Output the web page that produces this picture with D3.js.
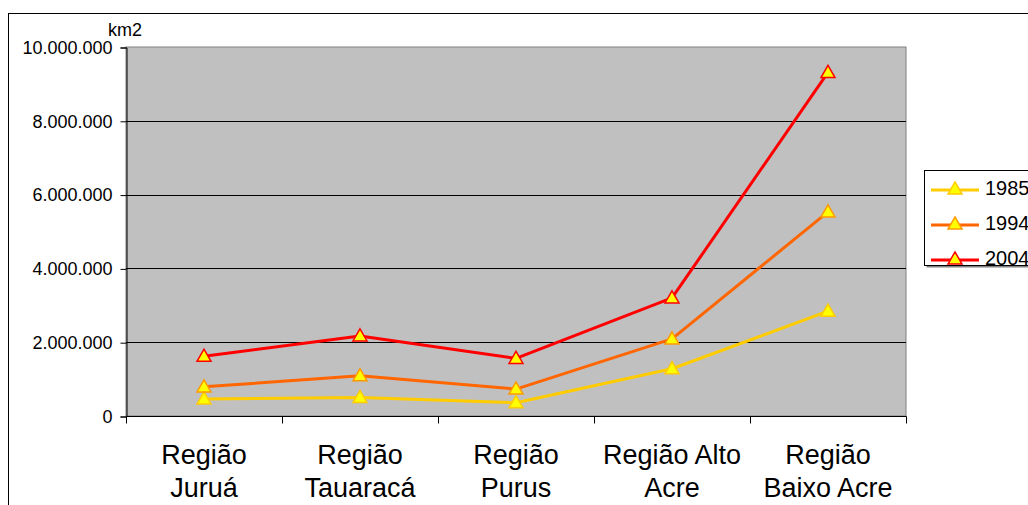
<!DOCTYPE html>
<html>
<head>
<meta charset="utf-8">
<script src="https://cdn.jsdelivr.net/npm/d3@7"></script>
<style>
  body { margin: 0; background: #fff; }
  svg { display: block; font-family: Arial, "Liberation Sans", sans-serif; }
</style>
</head>
<body>
<div id="chart"></div>
<script>
// data
const regions = [["Região", "Juruá"], ["Região", "Tauaracá"], ["Região", "Purus"], ["Região Alto", "Acre"], ["Região", "Baixo Acre"]];
const years = ["1985", "1994", "2004"];
const values1985 = [460000, 500000, 360000, 1280000, 2840000];
const values1994 = [790000, 1090000, 730000, 2090000, 5530000];
const values2004 = [1620000, 2170000, 1560000, 3200000, 9310000];
const yTicks = [0, 2000000, 4000000, 6000000, 8000000, 10000000];

const lineColors = ["#FFCC00", "#FF6600", "#FF0000"];
const markerStroke = ["#FFCC00", "#FF9900", "#FF0000"];

const series = [values1985, values1994, values2004];

const W = 1028, H = 505;
const plot = { left: 126, right: 906, top: 47, bottom: 416 };

const svg = d3.select("#chart").append("svg")
  .attr("width", W)
  .attr("height", H);

// outer frame (cut off at right / bottom like the reference)
svg.append("rect")
  .attr("x", 8.5).attr("y", 13.5)
  .attr("width", W + 20).attr("height", H + 20)
  .attr("fill", "#fff").attr("stroke", "#000");

const x = d3.scaleBand()
  .domain(d3.range(regions.length))
  .range([plot.left, plot.right]);

const y = d3.scaleLinear()
  .domain([0, 10000000])
  .range([plot.bottom, plot.top]);

const ptFmt = d3.formatLocale({ decimal: ",", thousands: ".", grouping: [3], currency: ["R$", ""] }).format(",");

// plot area background
svg.append("rect")
  .attr("x", plot.left).attr("y", plot.top)
  .attr("width", plot.right - plot.left).attr("height", plot.bottom - plot.top)
  .attr("fill", "#C0C0C0")
  .attr("stroke", "#808080");

// gridlines
svg.append("g")
  .selectAll("line")
  .data(yTicks.slice(1, -1))
  .join("line")
    .attr("x1", plot.left).attr("x2", plot.right)
    .attr("y1", d => Math.round(y(d)) + 0.5).attr("y2", d => Math.round(y(d)) + 0.5)
    .attr("stroke", "#000");

// y axis
const yAxis = svg.append("g")
  .attr("transform", `translate(${plot.left + 0.5},0.5)`)
  .call(d3.axisLeft(y).tickValues(yTicks).tickFormat(ptFmt).tickSize(6).tickPadding(8));
yAxis.selectAll("text").attr("font-size", 18).attr("font-family", "Arial, 'Liberation Sans', sans-serif").attr("fill", "#000");
yAxis.select(".domain").attr("stroke", "#000");

// x axis
const xAxisG = svg.append("g")
  .attr("transform", `translate(0.5,${plot.bottom + 0.5})`);
xAxisG.append("line")
  .attr("x1", plot.left).attr("x2", plot.right)
  .attr("stroke", "#000");
xAxisG.selectAll(".tick")
  .data(d3.range(regions.length + 1))
  .join("line")
    .attr("x1", d => d < regions.length ? Math.round(x(d)) : plot.right)
    .attr("x2", d => d < regions.length ? Math.round(x(d)) : plot.right)
    .attr("y1", 0).attr("y2", 7)
    .attr("stroke", "#000");

svg.append("g")
  .selectAll("text")
  .data(regions)
  .join("text")
    .attr("x", (d, i) => x(i) + x.bandwidth() / 2)
    .attr("y", 464)
    .attr("text-anchor", "middle")
    .attr("font-size", 27)
    .selectAll("tspan")
    .data(d => d)
    .join("tspan")
      .attr("x", function() { return this.parentNode.getAttribute("x"); })
      .attr("dy", (d, i) => i === 0 ? 0 : 33)
      .text(d => d);

// unit label
svg.append("text")
  .attr("x", 108).attr("y", 36)
  .attr("font-size", 18)
  .text("km2");

// lines
const line = d3.line()
  .x((d, i) => x(i) + x.bandwidth() / 2)
  .y(d => y(d));

const tri = d3.symbol().type(d3.symbolTriangle).size(85);

series.forEach((vals, s) => {
  svg.append("path")
    .datum(vals)
    .attr("d", line)
    .attr("fill", "none")
    .attr("stroke", lineColors[s])
    .attr("stroke-width", 3)
    .attr("stroke-linejoin", "round");

  svg.append("g")
    .selectAll("path")
    .data(vals)
    .join("path")
      .attr("d", tri)
      .attr("transform", (d, i) => `translate(${x(i) + x.bandwidth() / 2},${y(d) + 1})`)
      .attr("fill", "#FFFF00")
      .attr("stroke", markerStroke[s])
      .attr("stroke-width", 1.5);
});

// legend
const legend = svg.append("g");
legend.append("rect")
  .attr("x", 926.5).attr("y", 172.5)
  .attr("width", 120).attr("height", 95)
  .attr("fill", "#808080");
legend.append("rect")
  .attr("x", 924.5).attr("y", 170.5)
  .attr("width", 120).attr("height", 95)
  .attr("fill", "#fff").attr("stroke", "#000");

const legendY = [190, 225, 260];
years.forEach((yr, s) => {
  const g = legend.append("g").attr("transform", `translate(0,${legendY[s]})`);
  g.append("line")
    .attr("x1", 931).attr("x2", 979)
    .attr("stroke", lineColors[s]).attr("stroke-width", 3);
  g.append("path")
    .attr("d", tri)
    .attr("transform", "translate(955,0)")
    .attr("fill", "#FFFF00")
    .attr("stroke", markerStroke[s])
    .attr("stroke-width", 1.5);
  g.append("text")
    .attr("x", 985).attr("y", 5)
    .attr("font-size", 20)
    .text(yr);
});
</script>
</body>
</html>
